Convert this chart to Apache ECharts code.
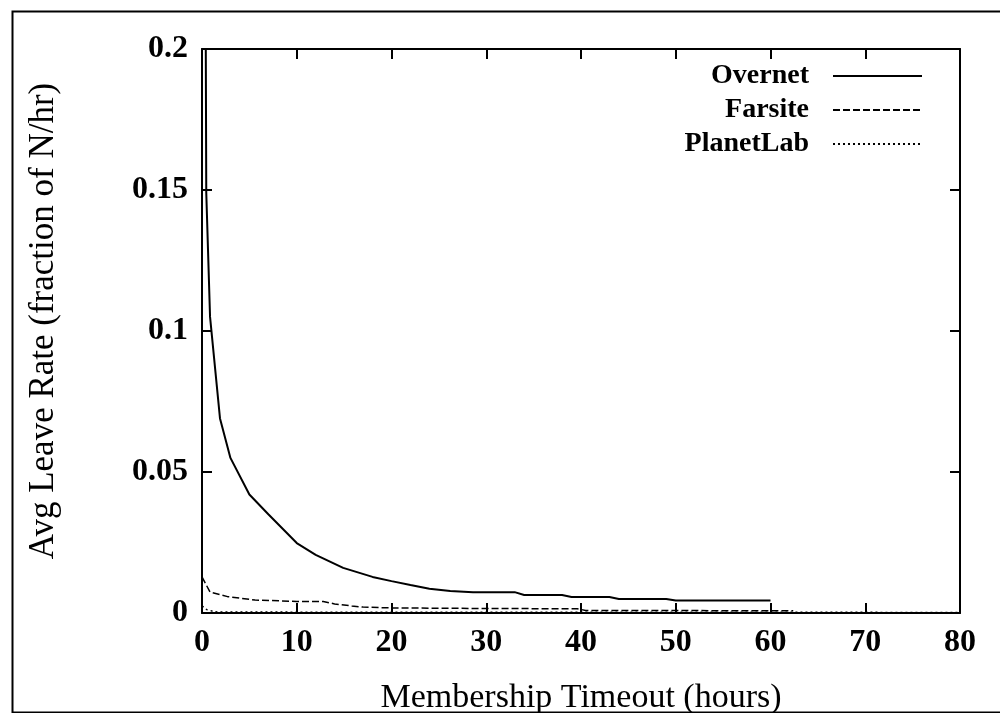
<!DOCTYPE html>
<html>
<head>
<meta charset="utf-8">
<script src="https://cdn.jsdelivr.net/npm/echarts@6/dist/echarts.min.js"></script>
<style>
  html, body { margin: 0; padding: 0; background: #fff; }
  #chart { width: 1000px; height: 713px; }
</style>
</head>
<body>
<div id="chart"></div>
<script>
const overnetHours = [0.4, 0.45, 0.85, 1.9, 3, 5, 7, 10, 12, 14.9, 18, 20, 22, 24, 26.2, 28.6, 33, 34, 38, 39, 43, 44, 49, 50, 60];
const overnetRate = [0.2, 0.149, 0.105, 0.069, 0.055, 0.042, 0.035, 0.0248, 0.0206, 0.016, 0.0128, 0.0113, 0.0099, 0.0086, 0.0078, 0.0074, 0.0074, 0.0064, 0.0064, 0.0057, 0.0057, 0.005, 0.005, 0.0044, 0.0044];

const farsiteHours = [0, 0.85, 2.7, 5.6, 10, 12.8, 14, 15.8, 17, 20, 30, 39.6, 40.5, 62.4];
const farsiteRate = [0.0128, 0.0074, 0.0058, 0.0046, 0.0041, 0.0041, 0.0032, 0.0025, 0.0021, 0.0018, 0.0016, 0.0015, 0.0009, 0.0008];

const planetHours = [0, 0.5, 1.4, 10, 40, 80];
const planetRate = [0.0025, 0.0012, 0.0004, 0.0003, 0.0003, 0.0002];

const xTicks = [0, 10, 20, 30, 40, 50, 60, 70, 80];
const yTicks = [0, 0.05, 0.1, 0.15, 0.2];

const zip = (xs, ys) => xs.map((x, i) => [x, ys[i]]);

const chart = echarts.init(document.getElementById("chart"));
const serif = "Liberation Serif";

const tick = { show: true, inside: true, length: 10, lineStyle: { color: "#000", width: 2 } };
const line = { show: true, onZero: false, lineStyle: { color: "#000", width: 2 } };

chart.setOption({
  animation: false,
  backgroundColor: "#fff",
  grid: { left: 202, right: 40, top: 49, bottom: 100, show: false, outerBoundsMode: "none" },
  graphic: [
    {
      type: "rect",
      left: 10, top: 9, z: 100,
      shape: { width: 1000, height: 701 },
      style: { fill: "none", stroke: "#000", lineWidth: 2 },
    },
  ],
  legend: {
    orient: "vertical",
    align: "right",
    right: 72,
    top: 57,
    itemWidth: 89,
    itemHeight: 14,
    itemGap: 6,
    data: ["Overnet", "Farsite", "PlanetLab"],
    itemStyle: { opacity: 0 },
    textStyle: { fontFamily: serif, fontWeight: "bold", fontSize: 28, color: "#000", lineHeight: 26, padding: [0, 19, 0, 0] },
  },
  xAxis: [
    {
      type: "value", min: xTicks[0], max: xTicks[xTicks.length - 1], interval: 10,
      name: "Membership Timeout (hours)", nameLocation: "middle", nameGap: 68,
      nameTextStyle: { fontFamily: serif, fontSize: 34, color: "#000" },
      axisLine: line, axisTick: tick,
      axisLabel: { fontFamily: serif, fontWeight: "bold", fontSize: 32, color: "#000", margin: 14 },
      splitLine: { show: false },
    },
    {
      type: "value", position: "top", min: xTicks[0], max: xTicks[xTicks.length - 1], interval: 10,
      axisLine: line, axisTick: tick,
      axisLabel: { show: false },
      splitLine: { show: false },
    },
  ],
  yAxis: [
    {
      type: "value", min: yTicks[0], max: yTicks[yTicks.length - 1], interval: 0.05,
      name: "Avg Leave Rate (fraction of N/hr)", nameLocation: "middle", nameGap: 141,
      nameTextStyle: { fontFamily: serif, fontSize: 35, color: "#000", padding: [0, 0, 0, 20] },
      axisLine: line, axisTick: tick,
      axisLabel: { fontFamily: serif, fontWeight: "bold", fontSize: 32, color: "#000", margin: 14 },
      splitLine: { show: false },
    },
    {
      type: "value", position: "right", min: yTicks[0], max: yTicks[yTicks.length - 1], interval: 0.05,
      axisLine: line, axisTick: tick,
      axisLabel: { show: false },
      splitLine: { show: false },
    },
  ],
  series: [
    {
      name: "PlanetLab", type: "line", xAxisIndex: 0, yAxisIndex: 0,
      data: zip(planetHours, planetRate), symbol: "none", z: 2,
      lineStyle: { color: "#000", width: 1.5, type: [2, 3] },
      itemStyle: { color: "#000" },
    },
    {
      name: "Farsite", type: "line", xAxisIndex: 0, yAxisIndex: 0,
      data: zip(farsiteHours, farsiteRate), symbol: "none", z: 3,
      lineStyle: { color: "#000", width: 1.5, type: [7, 3] },
      itemStyle: { color: "#000" },
    },
    {
      name: "Overnet", type: "line", xAxisIndex: 0, yAxisIndex: 0,
      data: zip(overnetHours, overnetRate), symbol: "none", z: 4,
      lineStyle: { color: "#000", width: 2 },
      itemStyle: { color: "#000" },
    },
  ],
});
</script>
</body>
</html>
